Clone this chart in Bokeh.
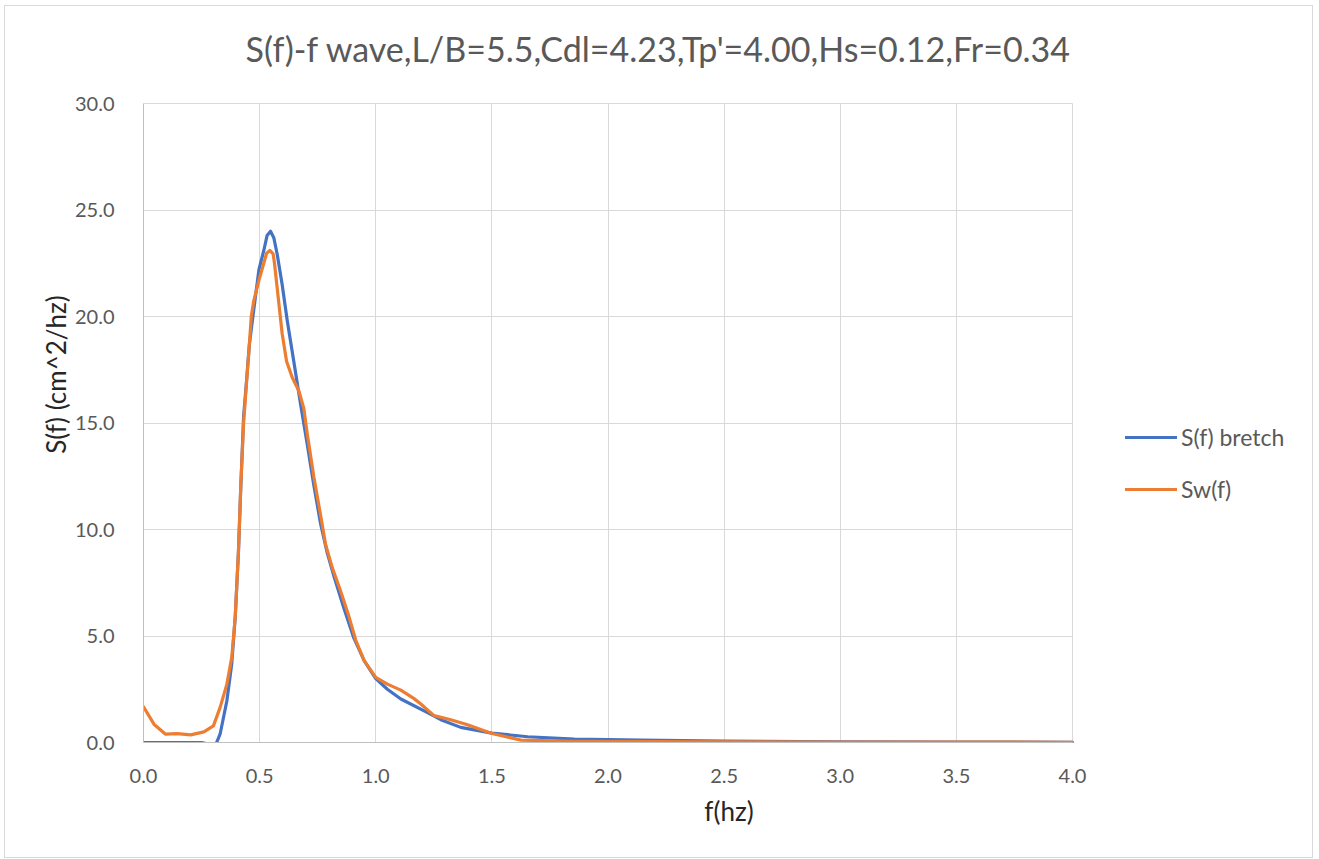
from bokeh.plotting import figure
from bokeh.models import Legend, LegendItem, NumeralTickFormatter, FixedTicker, Range1d, Label
from bokeh.embed import file_html
from bokeh.resources import INLINE

# ---- data ----
f_bretch = [0.0, 0.1, 0.2, 0.25, 0.275, 0.30, 0.315, 0.33, 0.359, 0.38, 0.395, 0.409, 0.419,
            0.431, 0.443, 0.456, 0.471, 0.497, 0.518, 0.532, 0.547, 0.561, 0.576, 0.597, 0.619,
            0.647, 0.676, 0.705, 0.733, 0.762, 0.791, 0.82, 0.863, 0.906, 0.95, 1.0, 1.05,
            1.108, 1.223, 1.28, 1.366, 1.5, 1.654, 1.855, 2.14, 2.5, 3.0, 3.5, 4.0]
s_bretch = [0.0, 0.0, 0.0, 0.0, -0.06, -0.12, 0.0, 0.4, 1.96, 3.7, 5.9, 9.0, 12.0,
            15.3, 16.9, 18.7, 20.0, 22.2, 23.1, 23.8, 24.0, 23.7, 22.9, 21.5, 19.8,
            17.9, 15.9, 14.0, 12.1, 10.3, 8.9, 7.8, 6.3, 4.9, 3.84, 3.0, 2.5,
            2.04, 1.4, 1.07, 0.71, 0.44, 0.27, 0.16, 0.11, 0.06, 0.03, 0.02, 0.01]

f_sw = [0.0, 0.045, 0.095, 0.145, 0.203, 0.26, 0.301, 0.33, 0.359, 0.38, 0.395, 0.409, 0.419,
        0.431, 0.443, 0.454, 0.464, 0.475, 0.497, 0.518, 0.530, 0.544, 0.558, 0.564, 0.578,
        0.597, 0.616, 0.64, 0.669, 0.69, 0.705, 0.733, 0.762, 0.784, 0.813, 0.849, 0.885,
        0.914, 0.95, 1.0, 1.05, 1.108, 1.165, 1.194, 1.251, 1.323, 1.395, 1.5, 1.625, 1.855,
        2.2, 2.6, 3.0, 3.5, 4.0]
s_sw = [1.68, 0.86, 0.39, 0.42, 0.36, 0.5, 0.78, 1.65, 2.74, 4.0, 5.9, 9.0, 12.1,
        15.0, 16.8, 18.4, 20.0, 20.75, 21.7, 22.5, 22.97, 23.1, 22.94, 22.5, 21.1,
        19.2, 17.9, 17.15, 16.5, 15.7, 14.5, 12.5, 10.7, 9.3, 8.2, 7.1, 5.9,
        4.8, 3.84, 3.06, 2.74, 2.46, 2.06, 1.81, 1.26, 1.07, 0.83, 0.42, 0.11, 0.05,
        0.04, 0.03, 0.02, 0.02, 0.01]

x_ticks = [0.0, 0.5, 1.0, 1.5, 2.0, 2.5, 3.0, 3.5, 4.0]
y_ticks = [0.0, 5.0, 10.0, 15.0, 20.0, 25.0, 30.0]
x_lim = (0.0, 4.0)
y_lim = (0.0, 30.0)

title_text = "S(f)-f wave,L/B=5.5,Cdl=4.23,Tp'=4.00,Hs=0.12,Fr=0.34"
x_label = "f(hz)"
y_label = "S(f) (cm^2/hz)"
series_names = ["S(f) bretch", "Sw(f)"]

FONT = "Lato"
GRAY = "#595959"
GRID = "#d9d9d9"

# layout in pixels: plot area of the reference is 929 x 639 px at (143, 103);
# the frame is extended to the right and top so that title and legend can sit there.
W, H = 1309, 853
LEFT, BOTTOM = 138, 117
PX_X = 929 / (x_lim[1] - x_lim[0])
PX_Y = 639 / (y_lim[1] - y_lim[0])
x_range = Range1d(x_lim[0], x_lim[0] + (W - LEFT) / PX_X)
y_range = Range1d(y_lim[0], y_lim[0] + (H - BOTTOM) / PX_Y)

p = figure(width=W, height=H, output_backend="svg", toolbar_location=None,
           x_range=x_range, y_range=y_range,
           min_border_left=LEFT, min_border_right=0, min_border_top=0, min_border_bottom=BOTTOM,
           x_axis_label=x_label, y_axis_label=y_label)
p.styles = {"margin-left": "4px", "margin-top": "5px", "border": "1px solid #d9d9d9"}
p.outline_line_color = None

xa = p.xaxis[0]
ya = p.yaxis[0]
for ax in (xa, ya):
    ax.major_label_text_font = FONT
    ax.major_label_text_font_size = "20px"
    ax.major_label_text_color = GRAY
    ax.axis_label_text_font = FONT
    ax.axis_label_text_font_size = "26px"
    ax.axis_label_text_font_style = "normal"
    ax.axis_label_text_color = "#262626"
    ax.major_tick_line_color = None
    ax.minor_tick_line_color = None
    ax.axis_line_color = "#bfbfbf"
    ax.formatter = NumeralTickFormatter(format="0.0")
xa.ticker = FixedTicker(ticks=x_ticks)
ya.ticker = FixedTicker(ticks=y_ticks)
xa.bounds = x_lim
ya.bounds = y_lim
xa.major_label_standoff = 20
ya.major_label_standoff = 23
xa.axis_label_standoff = 9
ya.axis_label_standoff = 0

p.xgrid[0].ticker = FixedTicker(ticks=x_ticks)
p.ygrid[0].ticker = FixedTicker(ticks=y_ticks)
p.xgrid[0].bounds = x_lim
p.xgrid[0].cross_bounds = y_lim
p.ygrid[0].bounds = y_lim
p.ygrid[0].cross_bounds = x_lim
p.xgrid.grid_line_color = GRID
p.ygrid.grid_line_color = GRID

r1 = p.line(f_bretch, s_bretch, line_color="#4472C4", line_width=3.2, line_join="round", line_cap="round")
r2 = p.line(f_sw, s_sw, line_color="#ED7D31", line_width=3.2, line_join="round", line_cap="round")

title = Label(x=(658 - 143) / PX_X, y=(742 - 48) / PX_Y, text=title_text,
              text_align="center", text_baseline="middle", text_font=FONT,
              text_font_size="34px", text_color=GRAY)
p.add_layout(title)

legend = Legend(items=[LegendItem(label=series_names[0], renderers=[r1]),
                       LegendItem(label=series_names[1], renderers=[r2])],
                location=(982, 239), padding=0, margin=0, spacing=24,
                glyph_width=52, glyph_height=22, label_height=22, label_standoff=4,
                border_line_color=None, background_fill_alpha=0,
                label_text_font=FONT, label_text_font_size="23px", label_text_color=GRAY)
p.add_layout(legend)

open("out.html", "w").write(file_html(p, INLINE))
